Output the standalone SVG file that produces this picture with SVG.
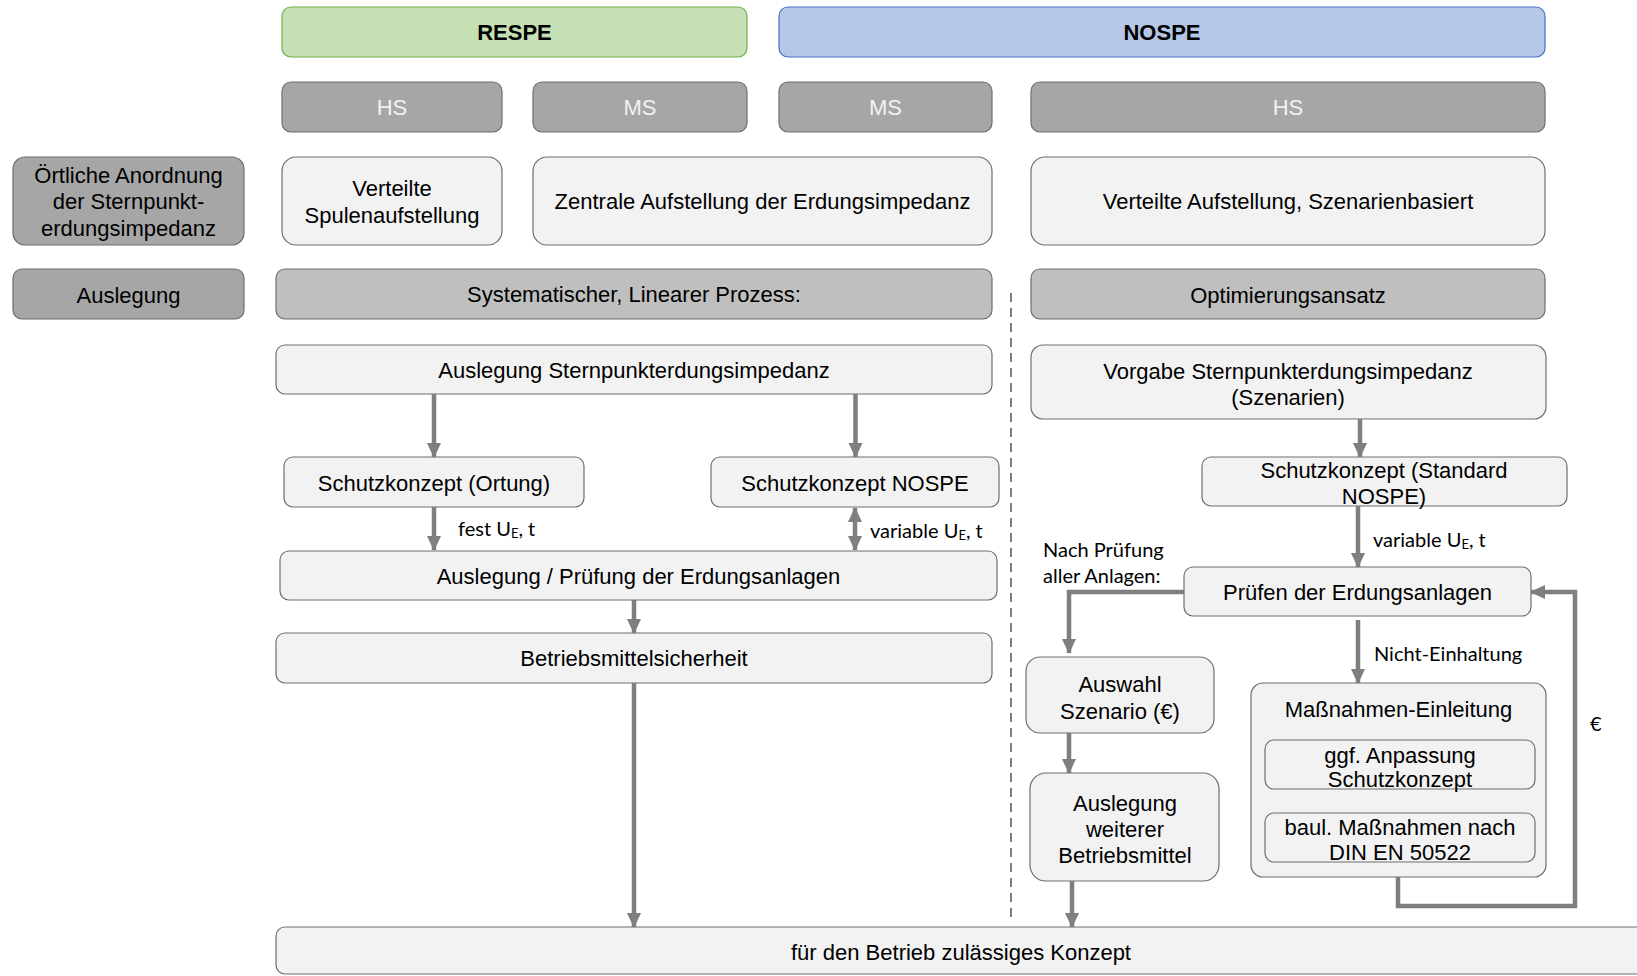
<svg xmlns="http://www.w3.org/2000/svg" width="1637" height="976" viewBox="0 0 1637 976">
<style>
.t{font-family:"Liberation Sans",Arial,sans-serif;font-size:22px;fill:#000;text-anchor:middle;dominant-baseline:central}
.tb{font-weight:bold}
.tw{fill:#f2f2f2}
.lbl{font-family:Lato,"Liberation Sans",sans-serif;font-size:20px;fill:#000;dominant-baseline:central}
.sub{font-size:13px}
.light{fill:#f2f2f2;stroke:#6e6e6e;stroke-width:1.2}
.dark{fill:#a6a6a6;stroke:#6e6e6e;stroke-width:1.2}
.mid{fill:#bfbfbf;stroke:#6e6e6e;stroke-width:1.2}
.green{fill:#c5e0b4;stroke:#70ad47;stroke-width:1.2}
.blue{fill:#b4c7e7;stroke:#4472c4;stroke-width:1.2}
.c{fill:none;stroke:#7f7f7f;stroke-width:4.5}
</style>
<defs>
<marker id="ah" markerUnits="userSpaceOnUse" markerWidth="16" markerHeight="16" viewBox="0 0 16 16" refX="14" refY="8" orient="auto-start-reverse">
<path d="M0,1 L15,8 L0,15 Z" fill="#7f7f7f"/>
</marker>
</defs>
<rect width="1637" height="976" fill="#fff"/>

<g id="respe"><rect class="green" x="282" y="7" width="465" height="50" rx="9"/><text class="t tb" x="514.5" y="32">RESPE</text></g>
<g id="nospe"><rect class="blue" x="779" y="7" width="766" height="50" rx="9"/><text class="t tb" x="1162" y="32">NOSPE</text></g>

<g id="hs1"><rect class="dark" x="282" y="82" width="220" height="50" rx="9"/><text class="t tw" x="392" y="107">HS</text></g>
<g id="ms1"><rect class="dark" x="533" y="82" width="214" height="50" rx="9"/><text class="t tw" x="640" y="107">MS</text></g>
<g id="ms2"><rect class="dark" x="779" y="82" width="213" height="50" rx="9"/><text class="t tw" x="885.5" y="107">MS</text></g>
<g id="hs2"><rect class="dark" x="1031" y="82" width="514" height="50" rx="9"/><text class="t tw" x="1288" y="107">HS</text></g>

<g id="oertliche"><rect class="dark" x="13" y="157" width="231" height="88" rx="12"/><text class="t" x="128.5" y="175">Örtliche Anordnung</text><text class="t" x="128.5" y="201">der Sternpunkt-</text><text class="t" x="128.5" y="228">erdungsimpedanz</text></g>
<g id="verteilte-spulen"><rect class="light" x="282" y="157" width="220" height="88" rx="14"/><text class="t" x="392" y="188">Verteilte</text><text class="t" x="392" y="215">Spulenaufstellung</text></g>
<g id="zentrale"><rect class="light" x="533" y="157" width="459" height="88" rx="14"/><text class="t" x="762.5" y="201.5">Zentrale Aufstellung der Erdungsimpedanz</text></g>
<g id="verteilte-aufstellung"><rect class="light" x="1031" y="157" width="514" height="88" rx="14"/><text class="t" x="1288" y="201.5">Verteilte Aufstellung, Szenarienbasiert</text></g>

<g id="auslegung-label"><rect class="dark" x="13" y="269" width="231" height="50" rx="9"/><text class="t" x="128.5" y="295">Auslegung</text></g>
<g id="systematischer"><rect class="mid" x="276" y="269" width="716" height="50" rx="9"/><text class="t" x="634" y="294">Systematischer, Linearer Prozess:</text></g>
<g id="optimierung"><rect class="mid" x="1031" y="269" width="514" height="50" rx="9"/><text class="t" x="1288" y="295">Optimierungsansatz</text></g>

<g id="auslegung-spi"><rect class="light" x="276" y="345" width="716" height="49" rx="9"/><text class="t" x="634" y="370">Auslegung Sternpunkterdungsimpedanz</text></g>
<g id="vorgabe"><rect class="light" x="1031" y="345" width="515" height="74" rx="12"/><text class="t" x="1288" y="371">Vorgabe Sternpunkterdungsimpedanz</text><text class="t" x="1288" y="397">(Szenarien)</text></g>

<g id="schutz-ortung"><rect class="light" x="284" y="457" width="300" height="50" rx="9"/><text class="t" x="434" y="483.5">Schutzkonzept (Ortung)</text></g>
<g id="schutz-nospe"><rect class="light" x="711" y="457" width="288" height="50" rx="9"/><text class="t" x="855" y="483.5">Schutzkonzept NOSPE</text></g>
<g id="schutz-standard"><rect class="light" x="1202" y="457" width="365" height="49" rx="9"/><text class="t" x="1384" y="470">Schutzkonzept (Standard</text><text class="t" x="1384" y="496">NOSPE)</text></g>

<g id="auslegung-pruefung"><rect class="light" x="280" y="551" width="717" height="49" rx="9"/><text class="t" x="638.5" y="576">Auslegung / Prüfung der Erdungsanlagen</text></g>
<g id="pruefen"><rect class="light" x="1184" y="567" width="347" height="49" rx="9"/><text class="t" x="1357.5" y="592">Prüfen der Erdungsanlagen</text></g>

<g id="betriebsmittelsicherheit"><rect class="light" x="276" y="633" width="716" height="50" rx="9"/><text class="t" x="634" y="658">Betriebsmittelsicherheit</text></g>

<g id="auswahl"><rect class="light" x="1026" y="657" width="188" height="76" rx="14"/><text class="t" x="1120" y="684">Auswahl</text><text class="t" x="1120" y="711">Szenario (€)</text></g>
<g id="auslegung-weiterer"><rect class="light" x="1030" y="773" width="189" height="108" rx="16"/><text class="t" x="1125" y="803">Auslegung</text><text class="t" x="1125" y="829">weiterer</text><text class="t" x="1125" y="855">Betriebsmittel</text></g>

<g id="massnahmen"><rect class="light" x="1251" y="683" width="295" height="194" rx="12"/><text class="t" x="1398.5" y="709">Maßnahmen-Einleitung</text>
<rect class="light" x="1265" y="740" width="270" height="49" rx="9"/><text class="t" x="1400" y="755">ggf. Anpassung</text><text class="t" x="1400" y="779">Schutzkonzept</text>
<rect class="light" x="1265" y="813" width="270" height="49" rx="9"/><text class="t" x="1400" y="827">baul. Maßnahmen nach</text><text class="t" x="1400" y="852">DIN EN 50522</text></g>

<g id="zulaessig"><rect class="light" x="276" y="927" width="1380" height="47" rx="9"/><text class="t" x="961" y="952">für den Betrieb zulässiges Konzept</text></g>

<g id="connectors">
<line x1="1011" y1="293" x2="1011" y2="922" stroke="#7f7f7f" stroke-width="2" stroke-dasharray="9 6"/>
<line class="c" x1="434" y1="394" x2="434" y2="457" marker-end="url(#ah)"/>
<line class="c" x1="855.5" y1="394" x2="855.5" y2="457" marker-end="url(#ah)"/>
<line class="c" x1="434" y1="507" x2="434" y2="550" marker-end="url(#ah)"/>
<line class="c" x1="855" y1="508" x2="855" y2="550" marker-start="url(#ah)" marker-end="url(#ah)"/>
<line class="c" x1="634" y1="600" x2="634" y2="633" marker-end="url(#ah)"/>
<line class="c" x1="634" y1="683" x2="634" y2="927" marker-end="url(#ah)"/>
<line class="c" x1="1360" y1="419" x2="1360" y2="457" marker-end="url(#ah)"/>
<line class="c" x1="1358" y1="506" x2="1358" y2="567" marker-end="url(#ah)"/>
<polyline class="c" points="1184,592 1069,592 1069,653" marker-end="url(#ah)"/>
<line class="c" x1="1069" y1="733" x2="1069" y2="773" marker-end="url(#ah)"/>
<line class="c" x1="1072" y1="881" x2="1072" y2="927" marker-end="url(#ah)"/>
<line class="c" x1="1358" y1="620" x2="1358" y2="683" marker-end="url(#ah)"/>
<polyline class="c" points="1398,877 1398,906 1575,906 1575,592 1531,592" marker-end="url(#ah)"/>
<text class="lbl" x="458" y="528">fest U<tspan class="sub" dy="5">E</tspan><tspan dy="-5">, t</tspan></text>
<text class="lbl" x="870" y="530">variable U<tspan class="sub" dy="5">E</tspan><tspan dy="-5">, t</tspan></text>
<text class="lbl" x="1373" y="539">variable U<tspan class="sub" dy="5">E</tspan><tspan dy="-5">, t</tspan></text>
<text class="lbl" x="1043" y="549">Nach Prüfung</text>
<text class="lbl" x="1043" y="575">aller Anlagen:</text>
<text class="lbl" x="1374" y="653">Nicht-Einhaltung</text>
<text class="lbl" x="1590" y="723">€</text>
</g>
</svg>
